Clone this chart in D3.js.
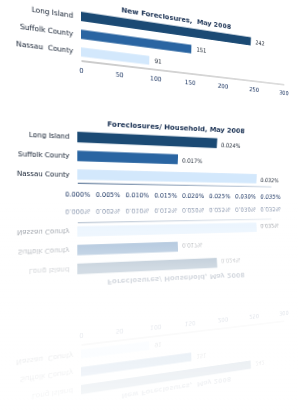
<!DOCTYPE html>
<html><head><meta charset="utf-8">
<script src="https://cdn.jsdelivr.net/npm/d3@7"></script>
<style>
html,body{margin:0;padding:0;background:#fff;overflow:hidden}
#stage{position:relative;width:298px;height:410px;overflow:hidden;background:#fff}
.scene{position:absolute;left:0;top:0;width:298px;height:205px}
.panel{position:absolute;left:0;top:0;transform-origin:0 0;overflow:visible}
#mirror{transform-origin:0 0;transform:matrix(1,0,0,-1,0,406);filter:blur(0.35px)}
#fade{position:absolute;left:0;top:203px;width:298px;height:207px;
 background:linear-gradient(to bottom,rgba(255,255,255,0.45) 0px,rgba(255,255,255,0.8) 65px,rgba(255,255,255,0.88) 120px,rgba(255,255,255,0.95) 190px,rgba(255,255,255,0.97) 207px)}
</style></head>
<body><div id="stage"><div class="scene" id="front"></div><div class="scene" id="mirror"></div><div id="fade"></div></div>
<script>
// ---- data ----
const categories = ["Long Island", "Suffolk County", "Nassau County"];
const labels1 = ["Long Island", "Suffolk County", "Nassau  County"];
const newForeclosures = [242, 151, 91];
const ticks1 = [0, 50, 100, 150, 200, 250, 300];
const title1 = "New Foreclosures,  May 2008";
const perHousehold = [0.024, 0.017, 0.032];
const perHouseholdLabels = ["0.024%", "0.017%", "0.032%"];
const ticks2 = [0, 0.005, 0.010, 0.015, 0.020, 0.025, 0.030, 0.035];
const tickLabels2 = ["0.000%", "0.005%", "0.010%", "0.015%", "0.020%", "0.025%", "0.030%", "0.035%"];
const title2 = "Foreclosures/ Household, May 2008";
const barColors = ["#1b4a74", "#2a65a2", "#d3e8fc"];

// ---- homography helpers ----
function solve(A, b) {
  const n = b.length, M = A.map((r, i) => r.concat([b[i]]));
  for (let c = 0; c < n; c++) {
    let p = c;
    for (let r = c + 1; r < n; r++) if (Math.abs(M[r][c]) > Math.abs(M[p][c])) p = r;
    [M[c], M[p]] = [M[p], M[c]];
    for (let r = 0; r < n; r++) if (r !== c) {
      const f = M[r][c] / M[c][c];
      for (let k = c; k <= n; k++) M[r][k] -= f * M[c][k];
    }
  }
  return M.map((r, i) => r[n] / r[i]);
}
function homography(src, dst) {
  const A = [], b = [];
  for (let i = 0; i < 4; i++) {
    const [x, y] = src[i], [X, Y] = dst[i];
    A.push([x, y, 1, 0, 0, 0, -x * X, -y * X]); b.push(X);
    A.push([0, 0, 0, x, y, 1, -x * Y, -y * Y]); b.push(Y);
  }
  const h = solve(A, b);
  return `matrix3d(${h[0]},${h[3]},0,${h[6]},${h[1]},${h[4]},0,${h[7]},0,0,1,0,${h[2]},${h[5]},0,1)`;
}

const FONT = "'DejaVu Sans', Verdana, sans-serif";

function drawChart(container, cfg, sfx) {
  const svg = d3.select(container).append("svg").attr("class", "panel")
    .attr("width", cfg.w).attr("height", cfg.h);
  const x = d3.scaleLinear().domain(cfg.domain).range(cfg.xRange);
  const y = d3.scaleBand().domain(categories).range(cfg.yRange).paddingInner(cfg.pad);

  const gid = "ax" + cfg.id + sfx;
  const grad = svg.append("defs").append("linearGradient").attr("id", gid)
    .attr("gradientUnits", "userSpaceOnUse")
    .attr("x1", x(cfg.domain[0])).attr("x2", x(cfg.domain[1])).attr("y1", 0).attr("y2", 0);
  grad.append("stop").attr("offset", 0).attr("stop-color", cfg.axisC0);
  grad.append("stop").attr("offset", 1).attr("stop-color", cfg.axisC1);

  // title
  svg.append("text").attr("x", x(cfg.titleSpan[0])).attr("y", cfg.yRange[0] - cfg.titleGap)
    .attr("textLength", x(cfg.titleSpan[1]) - x(cfg.titleSpan[0])).attr("lengthAdjust", "spacingAndGlyphs")
    .style("white-space", "pre")
    .attr("font-family", FONT).attr("font-weight", "bold").attr("font-size", cfg.titleSize)
    .attr("fill", "#1a3153").text(cfg.title);

  // bars
  svg.append("g").selectAll("rect").data(cfg.values).join("rect")
    .attr("x", x(0)).attr("y", (d, i) => y(categories[i]))
    .attr("width", d => x(d) - x(0)).attr("height", y.bandwidth())
    .attr("fill", (d, i) => barColors[i]);

  // category labels
  svg.append("g").selectAll("text").data(cfg.catLabels).join("text")
    .attr("x", x(0) - cfg.labelGap).attr("y", (d, i) => y(categories[i]) + y.bandwidth() / 2)
    .attr("dy", "0.35em").attr("text-anchor", "end").style("white-space", "pre")
    .attr("font-family", FONT).attr("font-size", cfg.labelSize).attr("fill", "#101c2e")
    .text(d => d);

  // value labels
  svg.append("g").selectAll("text").data(cfg.values).join("text")
    .attr("x", d => x(d) + cfg.valGap).attr("y", (d, i) => y(categories[i]) + y.bandwidth() / 2 + cfg.valDy)
    .attr("dy", "0.35em").attr("font-family", FONT).attr("font-size", cfg.valSize)
    .attr("fill", "#1a2330").text((d, i) => cfg.valueText[i]);

  // axis
  const axis = d3.axisBottom(x).tickValues(cfg.ticks).tickSize(0).tickPadding(cfg.tickPad)
    .tickFormat((d, i) => cfg.tickText[i]);
  const ag = svg.append("g").attr("transform", `translate(0,${cfg.axisY})`).call(axis);
  ag.select(".domain").attr("stroke", `url(#${gid})`).attr("stroke-width", cfg.axisW);
  ag.selectAll(".tick text").attr("font-family", FONT).attr("font-size", cfg.tickSize)
    .attr("fill", "#16305e");

  const src = [[x(0), cfg.yRange[0]], [x(cfg.refVal), cfg.yRange[0]], [x(0), cfg.axisY], [x(cfg.domain[1]), cfg.axisY]];
  svg.style("transform", homography(src, cfg.dst));
}

const chart1 = {
  id: 1, w: 340, h: 100, domain: [0, 300], xRange: [81, 81 + 0.816 * 300],
  yRange: [11.7, 56.5], pad: 0.48, axisY: 60.5, values: newForeclosures,
  catLabels: labels1, valueText: newForeclosures.map(String), ticks: ticks1,
  tickText: ticks1.map(String), title: title1, titleSpan: [52, 210], titleGap: 5.3, titleSize: 7.4,
  labelGap: 8, labelSize: 7.2, valGap: 6, valDy: 0, valSize: 6.5, tickPad: 7.5, tickSize: 6.9,
  axisC0: "#8c8c8c", axisC1: "#b4b4b4", axisW: 0.9, refVal: 242,
  dst: [[81, 11.7], [251, 37.3], [81, 60.5], [284, 84.3]]
};
const chart2 = {
  id: 2, w: 330, h: 205, domain: [0, 0.035], xRange: [77.3, 77.3 + 227.9],
  yRange: [131.7, 179.6], pad: 0.44, axisY: 182.7, values: perHousehold,
  catLabels: categories, valueText: perHouseholdLabels, ticks: ticks2,
  tickText: tickLabels2, title: title2, titleSpan: [0.00478, 0.0291], titleGap: 6.5, titleSize: 7.2,
  labelGap: 8, labelSize: 7.1, valGap: 5, valDy: 1.5, valSize: 6.3, tickPad: 9, tickSize: 7,
  axisC0: "#3f5f86", axisC1: "#c5d0de", axisW: 1.1, refVal: 0.024,
  dst: [[77.3, 131.7], [217.3, 138.3], [77.3, 182.7], [271, 186.4]]
};

for (const [el, sfx] of [["#front", "f"], ["#mirror", "m"]]) {
  const c = document.querySelector(el);
  drawChart(c, chart1, sfx);
  drawChart(c, chart2, sfx);
}
</script></body></html>
